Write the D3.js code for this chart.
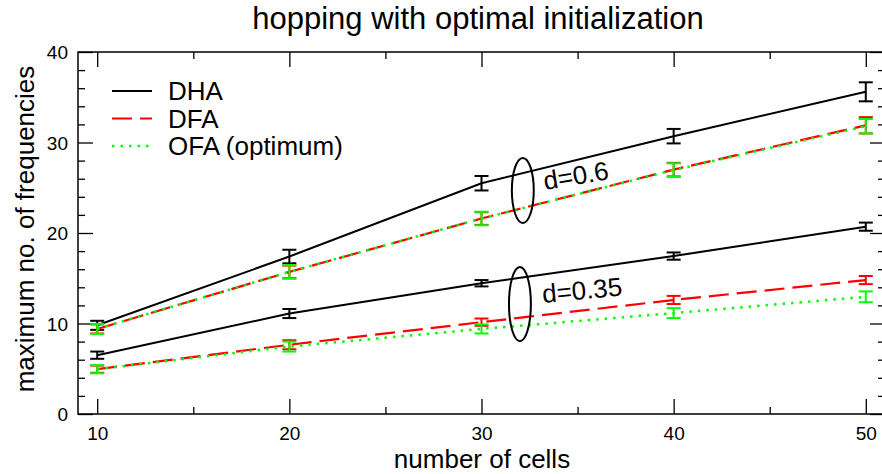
<!DOCTYPE html>
<html>
<head>
    <title>hopping with optimal initialization</title>
    <script src="https://cdnjs.cloudflare.com/ajax/libs/d3/7.8.5/d3.min.js"></script>
    <style>
        body { margin: 0; background: white; }
        svg { display: block; font-family: "Liberation Sans", Arial, sans-serif; }
    </style>
</head>
<body>
    <div id="chart"></div>
    <script>
        // number of cells
        const cells = [10, 20, 30, 40, 50];

        // d = 0.6
        const dha06 = [9.8, 17.4, 25.5, 30.7, 35.6];
        const dha06Err = [0.5, 0.75, 0.8, 0.8, 1.05];
        const dfa06 = [9.4, 15.7, 21.6, 27.0, 31.9];
        const dfa06Err = [0.5, 0.7, 0.7, 0.75, 0.9];
        const ofa06 = [9.4, 15.7, 21.6, 26.95, 31.8];
        const ofa06Err = [0.55, 0.75, 0.75, 0.75, 0.8];

        // d = 0.35
        const dha035 = [6.5, 11.1, 14.45, 17.45, 20.7];
        const dha035Err = [0.4, 0.5, 0.35, 0.4, 0.45];
        const dfa035 = [4.95, 7.65, 10.15, 12.6, 14.8];
        const dfa035Err = [0.4, 0.5, 0.4, 0.45, 0.45];
        const ofa035 = [4.95, 7.45, 9.4, 11.15, 12.95];
        const ofa035Err = [0.45, 0.55, 0.5, 0.55, 0.6];

        const xTicks = [10, 20, 30, 40, 50];
        const yTicks = [0, 10, 20, 30, 40];

        const legendNames = ['DHA', 'DFA', 'OFA (optimum)'];

        const width = 882, height = 474;
        const margin = {top: 52, right: -3, bottom: 60, left: 78};
        const font = '"Liberation Sans", Arial, sans-serif';

        const svg = d3.select('#chart').append('svg')
            .attr('width', width)
            .attr('height', height);

        const x = d3.scaleLinear().domain([9, 51]).range([margin.left, width - margin.right]);
        const y = d3.scaleLinear().domain([0, 40]).range([height - margin.bottom, margin.top]);

        const styles = {
            DHA: {color: '#000000', dash: null, width: 2},
            DFA: {color: '#ff0000', dash: '20,8', width: 2.2},
            OFA: {color: '#00ff00', dash: '2.5,6', width: 2.5}
        };

        // frame
        svg.append('rect')
            .attr('x', x(9)).attr('y', y(40))
            .attr('width', x(51) - x(9)).attr('height', y(0) - y(40))
            .attr('fill', 'none').attr('stroke', '#000').attr('stroke-width', 1.5);

        const minorX = d3.range(10, 51, 5).filter(v => !xTicks.includes(v));
        const minorY = d3.range(0, 41, 2).filter(v => !yTicks.includes(v));

        function tickAxis(axisFn, scale, values, size, pos, labels) {
            const a = axisFn(scale).tickValues(values).tickSize(size).tickSizeOuter(0);
            if (!labels) a.tickFormat('');
            const g = svg.append('g').attr('transform', pos).call(a)
                .attr('font-family', font).attr('font-size', 19);
            g.select('.domain').remove();
            g.selectAll('line').attr('stroke', '#000').attr('stroke-width', 1.3);
            g.selectAll('text').attr('fill', '#000');
            return g;
        }

        // bottom / top
        const gx = tickAxis(d3.axisBottom, x, xTicks, -15, `translate(0,${y(0)})`, true);
        gx.selectAll('text').attr('dy', 0).attr('y', 26);
        tickAxis(d3.axisBottom, x, minorX, -7, `translate(0,${y(0)})`, false);
        tickAxis(d3.axisTop, x, xTicks, -15, `translate(0,${y(40)})`, false);
        tickAxis(d3.axisTop, x, minorX, -7, `translate(0,${y(40)})`, false);

        // left / right
        const gy = tickAxis(d3.axisLeft, y, yTicks, -15, `translate(${x(9)},0)`, true);
        gy.selectAll('text').attr('x', -10).attr('dy', '0.35em');
        tickAxis(d3.axisLeft, y, minorY, -7, `translate(${x(9)},0)`, false);
        tickAxis(d3.axisRight, y, yTicks, -15, `translate(${x(51)},0)`, false);
        tickAxis(d3.axisRight, y, minorY, -7, `translate(${x(51)},0)`, false);

        // series
        const series = [
            {name: 'DHA', v: dha06, e: dha06Err},
            {name: 'DHA', v: dha035, e: dha035Err},
            {name: 'DFA', v: dfa06, e: dfa06Err},
            {name: 'DFA', v: dfa035, e: dfa035Err},
            {name: 'OFA', v: ofa06, e: ofa06Err},
            {name: 'OFA', v: ofa035, e: ofa035Err}
        ];

        const line = d3.line().x(d => x(d[0])).y(d => y(d[1]));

        series.forEach(s => {
            const st = styles[s.name];
            const pts = cells.map((c, i) => [c, s.v[i]]);
            svg.append('path')
                .attr('d', line(pts))
                .attr('fill', 'none')
                .attr('stroke', st.color)
                .attr('stroke-width', st.width)
                .attr('stroke-dasharray', st.dash);

            const eb = svg.append('g')
                .attr('stroke', st.color)
                .attr('stroke-width', 2)
                .attr('fill', 'none');
            cells.forEach((c, i) => {
                const cx = x(c), y0 = y(s.v[i] - s.e[i]), y1 = y(s.v[i] + s.e[i]);
                eb.append('line').attr('x1', cx).attr('x2', cx).attr('y1', y0).attr('y2', y1);
                eb.append('line').attr('x1', cx - 7).attr('x2', cx + 7).attr('y1', y0).attr('y2', y0);
                eb.append('line').attr('x1', cx - 7).attr('x2', cx + 7).attr('y1', y1).attr('y2', y1);
            });
        });

        // ellipses + annotations
        const notes = [
            {cx: 32.15, cy: 24.7, rx: 0.57, ry: 3.6, tx: 33.3, ty: 24.75, rot: -9.5, label: 'd=0.6'},
            {cx: 32.0, cy: 12.15, rx: 0.57, ry: 4.1, tx: 33.2, ty: 12.26, rot: -5.5, label: 'd=0.35'}
        ];
        notes.forEach(n => {
            svg.append('ellipse')
                .attr('cx', x(n.cx)).attr('cy', y(n.cy))
                .attr('rx', x(n.cx + n.rx) - x(n.cx))
                .attr('ry', y(n.cy) - y(n.cy + n.ry))
                .attr('fill', 'none').attr('stroke', '#000').attr('stroke-width', 2);
            svg.append('text')
                .attr('transform', `translate(${x(n.tx)},${y(n.ty)}) rotate(${n.rot})`)
                .attr('font-size', 26)
                .text(n.label);
        });

        // legend
        const legend = svg.append('g').attr('transform', 'translate(112,100)');
        legendNames.forEach((name, i) => {
            const st = styles[['DHA', 'DFA', 'OFA'][i]];
            const row = legend.append('g').attr('transform', `translate(0,${i * 27.5})`);
            row.append('line')
                .attr('x1', 0).attr('x2', 40).attr('y1', -9).attr('y2', -9)
                .attr('stroke', st.color).attr('stroke-width', st.width)
                .attr('stroke-dasharray', st.dash);
            row.append('text').attr('x', 56).attr('y', 0).attr('font-size', 26).text(name);
        });

        // titles
        svg.append('text')
            .attr('x', 478).attr('y', 29)
            .attr('text-anchor', 'middle').attr('font-size', 31)
            .text('hopping with optimal initialization');

        svg.append('text')
            .attr('x', 482).attr('y', 468)
            .attr('text-anchor', 'middle').attr('font-size', 26)
            .text('number of cells');

        svg.append('text')
            .attr('transform', 'translate(34,229) rotate(-90)')
            .attr('text-anchor', 'middle').attr('font-size', 26)
            .text('maximum no. of frequencies');
    </script>
</body>
</html>
